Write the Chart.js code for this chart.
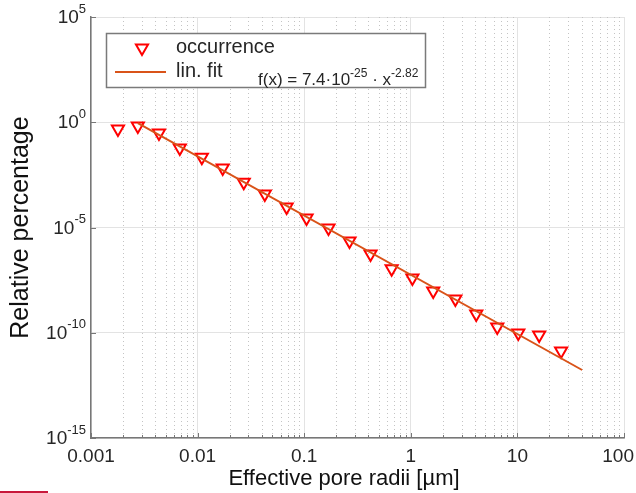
<!DOCTYPE html>
<html>
<head>
<meta charset="utf-8">
<script src="https://cdn.jsdelivr.net/npm/chart.js@4.4.0/dist/chart.umd.min.js"></script>
<style>
    html, body { margin: 0; padding: 0; background: #fff; }
    #wrap { position: relative; width: 636px; height: 493px; }
    #bar { position: absolute; left: 0; top: 491px; width: 48px; height: 2px; background: #c8193c; }
</style>
</head>
<body>
<div id="wrap">
    <canvas id="chart" width="636" height="493"></canvas>
    <div id="bar"></div>
</div>
<script>
// pore radii in um and their relative occurrence
const radii = [0.00179, 0.00275, 0.00434, 0.00681, 0.01096, 0.0172, 0.0271, 0.0427, 0.0684, 0.1052, 0.169,
    0.266, 0.419, 0.661, 1.035, 1.622, 2.618, 4.11, 6.47, 10.19, 16.0, 25.7];
const occurrence = [0.48, 0.66, 0.31, 0.060, 0.022, 6.8e-3, 1.4e-3, 3.9e-4, 9.3e-5, 2.8e-5, 9.5e-6,
    2.3e-6, 5.5e-7, 1.1e-7, 4.0e-8, 9.5e-9, 4.0e-9, 7.8e-10, 1.9e-10, 9.8e-11, 7.8e-11, 1.35e-11];

// ends of the fitted line
const fitRadii = [0.00275, 40.5];
const fitValues = [0.92, 1.7e-12];

const xMajor = [0.001, 0.01, 0.1, 1, 10, 100];
const xLabels = ["0.001", "0.01", "0.1", "1", "10", "100"];
const yMajor = [1e-15, 1e-10, 1e-5, 1, 1e5];
const yExponents = ["-15", "-10", "-5", "0", "5"];

const FONT = '"Liberation Sans", Arial, sans-serif';
const TEXT = "#262626";
const FIT_COLOR = "#d95319";

// 1..9 x each decade for the minor grid
const xAll = [];
xMajor.slice(0, -1).forEach(d => { for (let k = 1; k < 10; k++) xAll.push(d * k); });
xAll.push(xMajor[xMajor.length - 1]);

const isMajor = v => xMajor.some(m => Math.abs(v / m - 1) < 1e-6);

const decorations = {
    id: "decorations",
    beforeDatasetsDraw(chart) {
        const { ctx, chartArea: a, scales: { x, y } } = chart;
        ctx.save();
        // dotted minor grid
        ctx.strokeStyle = "#c4c4c4";
        ctx.lineWidth = 1;
        ctx.setLineDash([1, 3]);
        xAll.filter(v => !isMajor(v)).forEach(v => {
            const px = Math.round(x.getPixelForValue(v)) + 0.5;
            ctx.beginPath();
            ctx.moveTo(px, a.top);
            ctx.lineTo(px, a.bottom);
            ctx.stroke();
        });
        ctx.setLineDash([]);
        // inward tick marks
        ctx.strokeStyle = "#777";
        xAll.forEach(v => {
            const px = Math.round(x.getPixelForValue(v)) + 0.5;
            const len = isMajor(v) ? 5 : 3;
            ctx.beginPath();
            ctx.moveTo(px, a.bottom);
            ctx.lineTo(px, a.bottom - len);
            ctx.stroke();
        });
        yMajor.forEach(v => {
            const py = Math.round(y.getPixelForValue(v)) + 0.5;
            ctx.beginPath();
            ctx.moveTo(a.left, py);
            ctx.lineTo(a.left + 5, py);
            ctx.stroke();
        });
        ctx.restore();
    },
    afterDraw(chart) {
        const { ctx, scales: { x, y } } = chart;
        ctx.save();
        ctx.fillStyle = TEXT;
        ctx.textBaseline = "middle";
        // y tick labels with exponents
        yMajor.forEach((v, i) => {
            const py = y.getPixelForValue(v);
            ctx.font = "19px " + FONT;
            const wb = ctx.measureText("10").width;
            ctx.font = "13px " + FONT;
            const ws = ctx.measureText(yExponents[i]).width;
            const x0 = 86 - wb - ws;
            ctx.font = "19px " + FONT;
            ctx.fillText("10", x0, py + 1);
            ctx.font = "13px " + FONT;
            ctx.fillText(yExponents[i], x0 + wb, py - 8);
        });

        // x tick labels, last one kept inside the canvas
        ctx.font = "19px " + FONT;
        xMajor.forEach((v, i) => {
            const w = ctx.measureText(xLabels[i]).width;
            const cx = Math.min(x.getPixelForValue(v), 634 - w / 2);
            ctx.fillText(xLabels[i], cx - w / 2, 457);
        });

        // x axis title
        ctx.fillStyle = "#111";
        ctx.font = "22px " + FONT;
        ctx.textAlign = "center";
        ctx.fillText("Effective pore radii [\u00b5m]", 344, 479);
        ctx.textAlign = "left";

        // legend
        const ds = chart.data.datasets;
        ctx.fillStyle = "#fff";
        ctx.fillRect(106, 33, 319, 54);
        ctx.strokeStyle = "#7a7a7a";
        ctx.lineWidth = 1.5;
        ctx.strokeRect(106.5, 33.5, 319, 54);

        const mx = 142, my = 48, r = 7;
        ctx.strokeStyle = "#ff0000";
        ctx.lineWidth = 2;
        ctx.beginPath();
        ctx.moveTo(mx, my + r);
        ctx.lineTo(mx - 0.866 * r, my - 0.5 * r);
        ctx.lineTo(mx + 0.866 * r, my - 0.5 * r);
        ctx.closePath();
        ctx.stroke();

        ctx.strokeStyle = FIT_COLOR;
        ctx.beginPath();
        ctx.moveTo(115, 72);
        ctx.lineTo(166, 72);
        ctx.stroke();

        ctx.fillStyle = TEXT;
        ctx.font = "20px " + FONT;
        ctx.fillText(ds[1].label, 176, 47);
        ctx.fillText(ds[0].label, 176, 71);

        // fit formula
        ctx.textBaseline = "alphabetic";
        let fx = 258;
        const part = (t, size, dy) => {
            ctx.font = size + "px " + FONT;
            ctx.fillText(t, fx, 85 + dy);
            fx += ctx.measureText(t).width;
        };
        part("f(x) = 7.4\u00b710", 17, 0);
        part("-25", 12, -8);
        part(" \u00b7 x", 17, 0);
        part("-2.82", 12, -8);
        ctx.restore();
    }
};

new Chart(document.getElementById("chart"), {
    type: "scatter",
    data: {
        datasets: [
            {
                label: "lin. fit",
                type: "line",
                data: fitRadii.map((r, i) => ({ x: r, y: fitValues[i] })),
                borderColor: FIT_COLOR,
                borderWidth: 2,
                pointRadius: 0,
                fill: false,
                order: 0
            },
            {
                label: "occurrence",
                data: radii.map((r, i) => ({ x: r, y: occurrence[i] })),
                pointStyle: "triangle",
                rotation: 180,
                radius: 7,
                borderColor: "#ff0000",
                backgroundColor: "rgba(0,0,0,0)",
                borderWidth: 2,
                order: 1
            }
        ]
    },
    options: {
        responsive: false,
        animation: false,
        layout: { padding: { top: 17, right: 12, left: 0, bottom: 0 } },
        plugins: { legend: { display: false }, tooltip: { enabled: false } },
        scales: {
            x: {
                type: "logarithmic",
                min: 0.001,
                max: 100,
                afterBuildTicks: scale => { scale.ticks = xAll.map(v => ({ value: v })); },
                afterFit: scale => {
                    scale.height = 55;
                    scale.paddingLeft = 0;
                    scale.paddingRight = 0;
                },
                ticks: { display: false },
                grid: {
                    drawTicks: false,
                    color: ctx => (ctx.tick && isMajor(ctx.tick.value)) ? "#e3e3e3" : "rgba(0,0,0,0)"
                },
                border: { color: "#777", width: 1.5 }
            },
            y: {
                type: "logarithmic",
                min: 1e-15,
                max: 1e5,
                afterBuildTicks: scale => { scale.ticks = yMajor.map(v => ({ value: v })); },
                afterFit: scale => { scale.width = 91; },
                ticks: { display: false },
                grid: { drawTicks: false, color: "#e3e3e3" },
                border: { color: "#777", width: 1.5 },
                title: {
                    display: true,
                    text: "Relative percentage",
                    color: "#111",
                    font: { family: FONT, size: 25 },
                    padding: { top: 6, bottom: 0 }
                }
            }
        }
    },
    plugins: [decorations]
});
</script>
</body>
</html>
